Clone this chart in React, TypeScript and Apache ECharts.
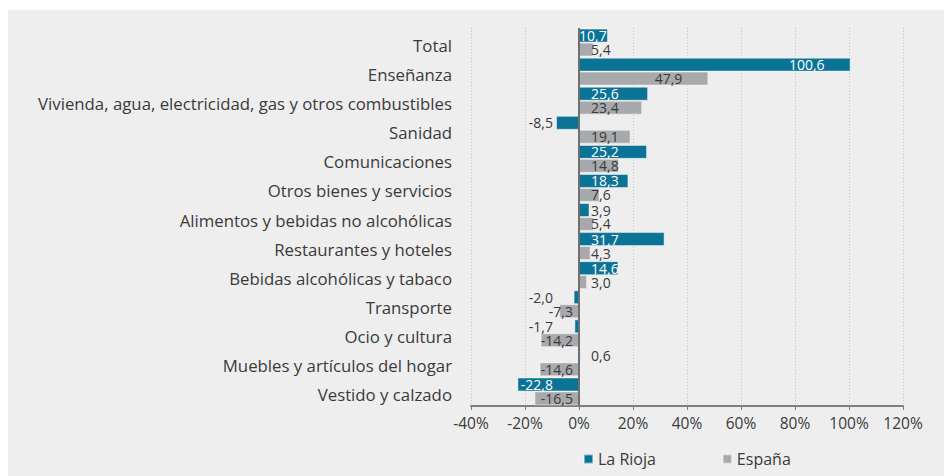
import React, { useEffect, useRef } from "react";
import * as echarts from "echarts";

const categories = [
  "Total",
  "Enseñanza",
  "Vivienda, agua, electricidad, gas y otros combustibles",
  "Sanidad",
  "Comunicaciones",
  "Otros bienes y servicios",
  "Alimentos y bebidas no alcohólicas",
  "Restaurantes y hoteles",
  "Bebidas alcohólicas y tabaco",
  "Transporte",
  "Ocio y cultura",
  "Muebles y artículos del hogar",
  "Vestido y calzado",
];
const laRioja = [10.7, 100.6, 25.6, -8.5, 25.2, 18.3, 3.9, 31.7, 14.6, -2.0, -1.7, 0.6, -22.8];
const espana = [5.4, 47.9, 23.4, 19.1, 14.8, 7.6, 5.4, 4.3, 3.0, -7.3, -14.2, -14.6, -16.5];
const xTicks = [-40, -20, 0, 20, 40, 60, 80, 100, 120];

const FONT = "'Open Sans', sans-serif";
const TEXT = "#3a3a3a";
const TEAL = "#0a7396";
const GRAY = "#a8a9ac";

const fmt = (v: number) => v.toFixed(1).replace(".", ",");

function riojaItem(v: number) {
  let position = "insideLeft";
  let distance = 12;
  if (v >= 40) {
    position = "insideRight";
    distance = 26;
  } else if (v >= 10 && v < 14) {
    distance = 0;
  } else if (v < 0) {
    position = "insideRight";
    distance = 26;
  }
  const color = Math.abs(v) >= 10 ? "#ffffff" : TEXT;
  return { value: v, label: { position, distance, color } };
}

function espanaItem(v: number) {
  let position = "insideLeft";
  let distance = 12;
  if (v >= 40) {
    position = "insideRight";
    distance = 26;
  } else if (v < 0) {
    position = "insideRight";
    distance = 6;
  }
  return { value: v, label: { position, distance, color: TEXT } };
}

export default function App() {
  const ref = useRef<HTMLDivElement>(null);
  useEffect(() => {
    if (!ref.current) return;
    const chart = echarts.init(ref.current, null, { renderer: "svg" });
    chart.setOption({
      animation: false,
      backgroundColor: "#eeeeee",
      textStyle: { fontFamily: FONT },
      grid: { left: 463, right: 41, top: 18, bottom: 70, containLabel: false },
      legend: {
        data: ["La Rioja", "España"],
        left: 570,
        top: 436,
        icon: "rect",
        itemWidth: 9,
        itemHeight: 9,
        itemGap: 66,
        textStyle: { fontFamily: FONT, fontSize: 16, color: TEXT },
      },
      xAxis: {
        type: "value",
        min: xTicks[0],
        max: xTicks[xTicks.length - 1],
        interval: 20,
        axisLine: { show: true, onZero: false, lineStyle: { color: "#7f7f7f", width: 2 } },
        axisTick: { show: true, length: 4, lineStyle: { color: "#7f7f7f" } },
        splitLine: { show: true, lineStyle: { color: "#c4c4c4", type: [1, 2], width: 1 } },
        axisLabel: {
          formatter: (v: number) => `${v}%`,
          fontFamily: FONT,
          fontSize: 15.5,
          color: TEXT,
          margin: 9,
        },
      },
      yAxis: {
        type: "category",
        data: categories,
        inverse: true,
        axisLine: { show: false, onZero: false },
        axisTick: { show: false },
        axisLabel: {
          fontFamily: FONT,
          fontSize: 16.8,
          color: TEXT,
          margin: 19,
          verticalAlign: "top",
          lineHeight: 6,
        },
      },
      series: [
        {
          name: "La Rioja",
          type: "bar",
          data: laRioja.map(riojaItem),
          barGap: "0%",
          barCategoryGap: "4%",
          itemStyle: { color: TEAL, borderColor: "rgba(255,255,255,0.45)", borderWidth: 1 },
          label: {
            show: true,
            formatter: (p: any) => fmt(p.value),
            fontFamily: FONT,
            fontSize: 14,
            lineHeight: 13,
          },
          markLine: {
            silent: true,
            symbol: "none",
            label: { show: false },
            lineStyle: { color: "#6f6f6f", type: "solid", width: 2 },
            data: [{ xAxis: 0 }],
          },
        },
        {
          name: "España",
          type: "bar",
          data: espana.map(espanaItem),
          barGap: "0%",
          barCategoryGap: "4%",
          itemStyle: { color: GRAY, borderColor: "rgba(255,255,255,0.45)", borderWidth: 1 },
          label: {
            show: true,
            formatter: (p: any) => fmt(p.value),
            fontFamily: FONT,
            fontSize: 14,
            lineHeight: 13,
          },
        },
      ],
    });
    return () => chart.dispose();
  }, []);
  return (
    <div
      ref={ref}
      style={{ position: "fixed", left: 8, top: 10, width: 936, height: 466 }}
    />
  );
}
